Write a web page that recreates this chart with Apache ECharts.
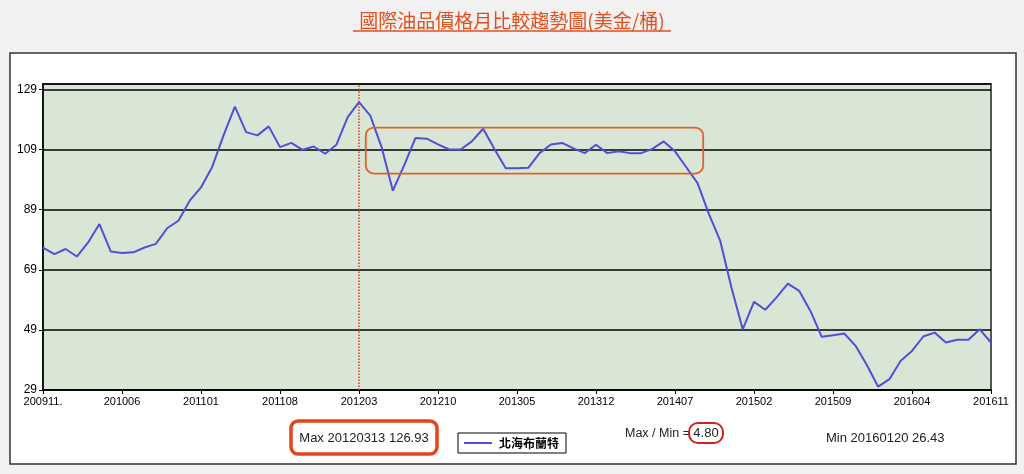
<!DOCTYPE html>
<html><head><meta charset="utf-8">
<script src="https://cdn.jsdelivr.net/npm/echarts@6/dist/echarts.min.js"></script>
<style>html,body{margin:0;padding:0;background:#f2f1f1;}#c{width:1024px;height:474px;}</style>
</head><body><div id="c"></div>
<script>
const categories = [
'200911','200912',
'201001','201002','201003','201004','201005','201006','201007','201008','201009','201010','201011','201012',
'201101','201102','201103','201104','201105','201106','201107','201108','201109','201110','201111','201112',
'201201','201202','201203','201204','201205','201206','201207','201208','201209','201210','201211','201212',
'201301','201302','201303','201304','201305','201306','201307','201308','201309','201310','201311','201312',
'201401','201402','201403','201404','201405','201406','201407','201408','201409','201410','201411','201412',
'201501','201502','201503','201504','201505','201506','201507','201508','201509','201510','201511','201512',
'201601','201602','201603','201604','201605','201606','201607','201608','201609','201610','201611'];
const brentValues = [
76.4, 74.2, 75.9, 73.4, 78.1, 84.2, 75.1, 74.6, 74.8, 76.4,
77.6, 82.8, 85.3, 92.0, 96.4, 103.3, 113.7, 123.3, 114.8, 113.7,
116.7, 109.8, 111.2, 108.9, 110.0, 107.6, 110.6, 119.8, 124.8, 120.3,
109.8, 95.3, 103.7, 112.8, 112.6, 110.7, 109.0, 109.0, 111.7, 115.9,
109.2, 102.8, 102.8, 102.9, 107.8, 110.7, 111.2, 109.4, 107.8, 110.6,
107.8, 108.4, 107.8, 107.8, 109.2, 111.7, 108.4, 103.1, 97.8, 87.6,
78.7, 63.1, 49.2, 58.3, 55.7, 59.8, 64.4, 62.0, 55.3, 46.7,
47.2, 47.8, 43.7, 37.3, 30.1, 32.6, 38.7, 42.0, 46.8, 48.1,
44.8, 45.7, 45.7, 49.2, 44.8];
const xTickLabels = ['200911.','201006','201101','201108','201203','201210','201305','201312','201407','201502','201509','201604','201611'];
const yTickValues = [29, 49, 69, 89, 109, 129];
const seriesName = '北海布蘭特';
const titleText = '國際油品價格月比較趨勢圖(美金/桶)';
const maxMarkCategory = '201203';
const maxText = 'Max 20120313 126.93';
const ratioLabel = 'Max / Min =';
const ratioValue = '4.80';
const minText = 'Min 20160120 26.43';
// annotated range (category index from/to, value top/bottom)
const annoIdx = [28.6, 58.5];
const annoVal = [116.3, 101.0];

const chart = echarts.init(document.getElementById('c'));
const markStyle = { color: '#e0401a', type: 'dotted', width: 1.5, opacity: 1 };
const option = {
  animation: false,
  backgroundColor: 'transparent',
  title: {
    text: titleText, left: 'center', top: 6,
    textStyle: { color: '#e0501e', fontSize: 19, fontWeight: 'normal', fontFamily: 'Noto Sans CJK TC' }
  },
  grid: { left: 43, right: 33, top: 84, bottom: 84, show: true, backgroundColor: '#d9e6d6', borderColor: '#555', borderWidth: 2 },
  legend: {
    data: [seriesName], left: 458, top: 433, orient: 'horizontal',
    borderColor: '#000', borderWidth: 1, padding: [4, 7, 4, 6], itemGap: 4,
    icon: 'rect', itemWidth: 28, itemHeight: 2,
    textStyle: { fontSize: 12, fontWeight: 'bold', color: '#000', fontFamily: 'Noto Sans CJK TC', padding: [0, 0, 0, 2] },
    backgroundColor: '#fff'
  },
  xAxis: {
    type: 'category', data: categories, boundaryGap: false,
    axisLine: { lineStyle: { color: '#000', width: 1.5 } },
    axisTick: { interval: 6, length: 4, lineStyle: { color: '#000' } },
    axisLabel: { interval: 6, fontSize: 11, color: '#000', margin: 6, fontFamily: 'Liberation Sans Narrow, Liberation Sans',
      formatter: (v, i) => xTickLabels[Math.round(i / 7)] },
    splitLine: { show: false }
  },
  yAxis: {
    type: 'value', min: 29, max: 130.8, interval: 20,
    axisLine: { show: true, lineStyle: { color: '#000', width: 1.5 } },
    axisTick: { show: true, length: 4, lineStyle: { color: '#000' } },
    axisLabel: { fontSize: 12, color: '#000', margin: 6, showMaxLabel: false, fontFamily: 'Liberation Sans Narrow, Liberation Sans',
      formatter: v => yTickValues.indexOf(v) >= 0 ? String(v) : '' },
    splitLine: { lineStyle: { color: '#000', width: 1.5 } }
  },
  series: [{
    name: seriesName, type: 'line', data: brentValues, showSymbol: false,
    lineStyle: { color: '#4f4fd8', width: 2 }, itemStyle: { color: '#4f4fd8' },
    markLine: {
      silent: true, symbol: 'none', label: { show: false },
      lineStyle: markStyle,
      emphasis: { disabled: true },
      data: [{ xAxis: maxMarkCategory, lineStyle: markStyle }]
    }
  }]
};
chart.setOption(option);

function px(idx, val) {
  const i0 = Math.floor(idx), f = idx - i0;
  const a = chart.convertToPixel({ xAxisIndex: 0, yAxisIndex: 0 }, [i0, val]);
  const b = chart.convertToPixel({ xAxisIndex: 0, yAxisIndex: 0 }, [i0 + 1, val]);
  return [a[0] + (b[0] - a[0]) * f, a[1]];
}
const p1 = px(annoIdx[0], annoVal[0]);
const p2 = px(annoIdx[1], annoVal[1]);

chart.setOption({
  graphic: [
    { type: 'rect', z: -10, shape: { x: 10, y: 53, width: 1006, height: 411 }, style: { fill: '#fff', stroke: '#333', lineWidth: 1.5 } },
    { type: 'line', shape: { x1: 353, y1: 31, x2: 671, y2: 31 }, style: { stroke: '#e0501e', lineWidth: 1.5 } },
    { type: 'rect', shape: { x: p1[0], y: p1[1], width: p2[0] - p1[0], height: p2[1] - p1[1], r: 8 },
      style: { fill: 'none', stroke: '#e0602a', lineWidth: 1.8 }, z: 100 },
    { type: 'rect', shape: { x: 291, y: 421, width: 146, height: 33, r: 7 }, style: { fill: 'none', stroke: '#e6441a', lineWidth: 3.5 }, z: 100 },
    { type: 'text', x: 364, y: 438, style: { text: maxText, fontSize: 13, fill: '#222', align: 'center', verticalAlign: 'middle', fontFamily: 'Liberation Sans' }, z: 100 },
    { type: 'text', x: 625, y: 434, style: { text: ratioLabel, fontSize: 12.5, fill: '#222', align: 'left', verticalAlign: 'middle', fontFamily: 'Liberation Sans' }, z: 100 },
    { type: 'text', x: 706, y: 433, style: { text: ratioValue, fontSize: 13, fill: '#222', align: 'center', verticalAlign: 'middle', fontFamily: 'Liberation Sans' }, z: 100 },
    { type: 'rect', shape: { x: 689, y: 423, width: 34, height: 20, r: 9 }, style: { fill: 'none', stroke: '#cc2222', lineWidth: 2 }, z: 100 },
    { type: 'text', x: 826, y: 438, style: { text: minText, fontSize: 13, fill: '#222', align: 'left', verticalAlign: 'middle', fontFamily: 'Liberation Sans' }, z: 100 }
  ]
});
</script></body></html>
